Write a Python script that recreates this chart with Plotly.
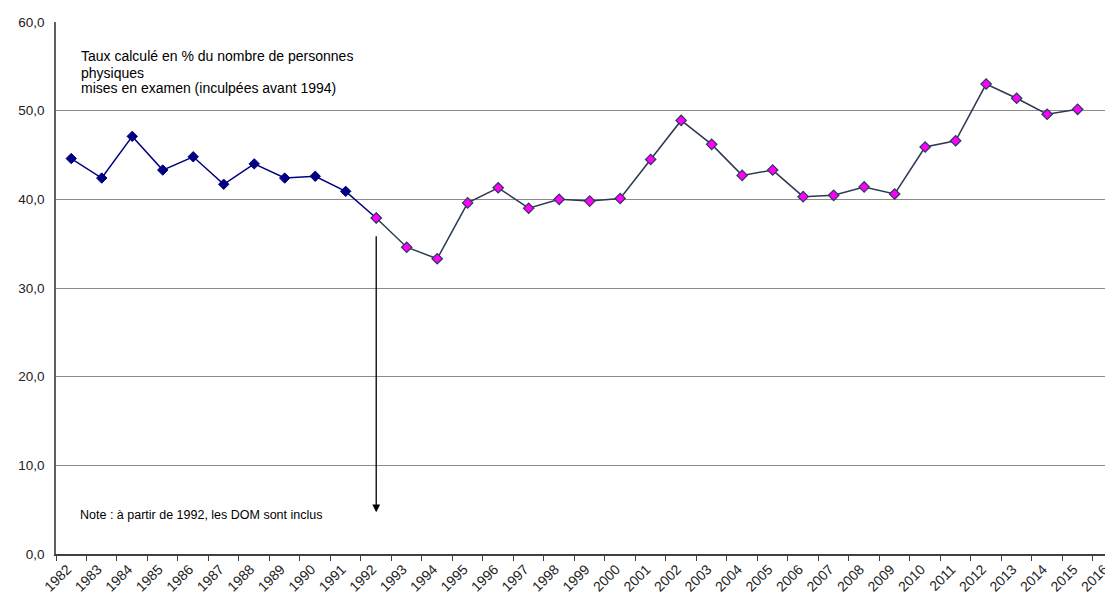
import plotly.graph_objects as go

# Data
years = [str(y) for y in range(1982, 2017)]
values = [44.6, 42.4, 47.1, 43.3, 44.8, 41.7, 44.0, 42.4, 42.6, 40.9,
          37.9, 34.6, 33.3, 39.6, 41.3, 39.0, 40.0, 39.8, 40.1, 44.5,
          48.9, 46.2, 42.7, 43.3, 40.3, 40.45, 41.4, 40.6, 45.9, 46.6,
          53.0, 51.4, 49.6, 50.15, None]
split_year = "1992"
y_ticks = [0, 10, 20, 30, 40, 50, 60]
arrow_from, arrow_to = 36.0, 4.7

title_lines = ["Taux calculé en % du nombre de personnes",
               "physiques",
               "mises en examen (inculpées avant 1994)"]
note_text = "Note : à partir de 1992, les DOM sont inclus"

i_split = years.index(split_year)
x1, y1 = years[:i_split + 1], values[:i_split + 1]
x2, y2 = years[i_split:], values[i_split:]

FONT = "Liberation Sans, Arial, sans-serif"

fig = go.Figure()
fig.add_trace(go.Scatter(
    x=x1, y=y1, mode="lines+markers",
    line=dict(color="#000080", width=1.5),
    marker=dict(symbol="diamond", size=8, color="#000080",
                line=dict(color="#000080", width=1)),
    showlegend=False, hoverinfo="x+y"))
fig.add_trace(go.Scatter(
    x=x2, y=y2, mode="lines+markers",
    line=dict(color="#2B3A52", width=1.5),
    marker=dict(symbol="diamond", size=8, color="#FF00FF",
                line=dict(color="#2B3A52", width=1.2)),
    showlegend=False, hoverinfo="x+y"))

fig.add_annotation(
    x=i_split, y=arrow_to, ax=i_split, ay=arrow_from,
    xref="x", yref="y", axref="x", ayref="y",
    text="", showarrow=True, arrowhead=2, arrowsize=1.2,
    arrowwidth=1.3, arrowcolor="#000000")

for line, ypos in zip(title_lines, [0.9355, 0.905, 0.8754]):
    fig.add_annotation(
        x=0.0218, y=ypos, xref="paper", yref="paper",
        xanchor="left", yanchor="middle", align="left",
        text=line, showarrow=False,
        font=dict(family=FONT, size=14, color="#000000"))

fig.add_annotation(
    x=0.0208, y=0.0727, xref="paper", yref="paper",
    xanchor="left", yanchor="middle", align="left",
    text=note_text, showarrow=False,
    font=dict(family=FONT, size=12.5, color="#000000"))

fig.update_layout(
    width=1105, height=588,
    margin=dict(l=48, r=0, t=14, b=42),
    paper_bgcolor="white", plot_bgcolor="white",
    separators=", ",
    font=dict(family=FONT, color="#222222"),
)
fig.update_xaxes(
    type="category", categoryorder="array", categoryarray=years,
    range=[-0.5, 34.16], tickangle=-45,
    ticks="outside", tickson="boundaries", ticklen=5, tickcolor="#404040",
    showline=True, linecolor="#404040", linewidth=1.5,
    showgrid=False, automargin=False, ticklabelshift=-4,
    tickfont=dict(family=FONT, size=14, color="#222222"),
)
fig.update_yaxes(
    range=[0, 60], tickvals=y_ticks, tickformat=".1f",
    showgrid=True, gridcolor="#8C8C8C", gridwidth=1.2,
    showline=True, linecolor="#606060", linewidth=1.5,
    zeroline=False, ticks="", ticklabelstandoff=7,
    automargin=False,
    tickfont=dict(family=FONT, size=13.5, color="#222222"),
)

fig.write_html("out.html")
